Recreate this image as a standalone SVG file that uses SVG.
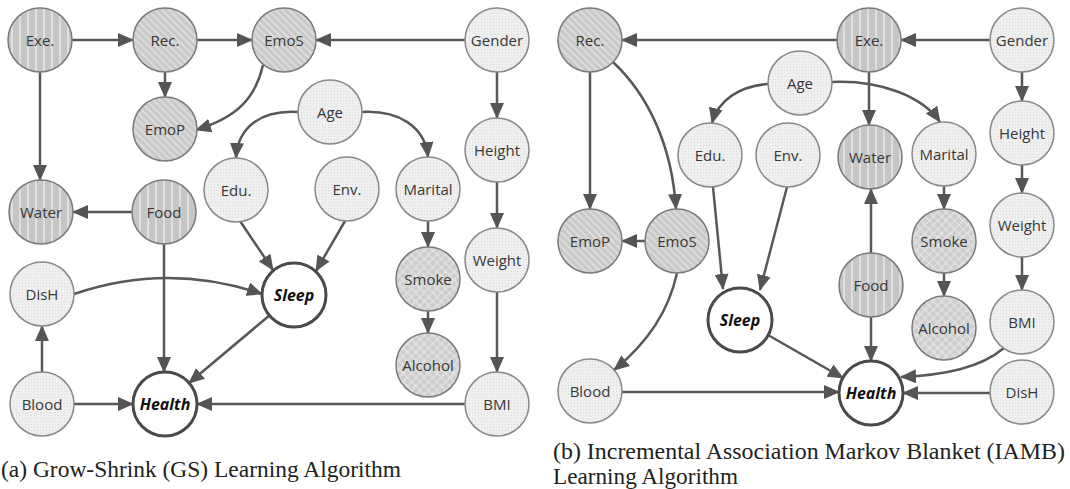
<svg xmlns="http://www.w3.org/2000/svg" width="1070" height="489" viewBox="0 0 1070 489">
  <defs>
    <!-- fills for the node categories -->
    <pattern id="dots" width="3" height="3" patternUnits="userSpaceOnUse">
      <rect width="3" height="3" fill="#efefef"/>
      <rect x="1" y="1" width="1" height="1" fill="#dcdcdc"/>
    </pattern>
    <pattern id="vstripe" width="8" height="8" patternUnits="userSpaceOnUse">
      <rect width="8" height="8" fill="#c6c6c6"/>
      <line x1="4" y1="0" x2="4" y2="8" stroke="#e6e6e6" stroke-width="1.6"/>
    </pattern>
    <pattern id="diag" width="5" height="5" patternUnits="userSpaceOnUse" patternTransform="rotate(-45)">
      <rect width="5" height="5" fill="#c9c9c9"/>
      <line x1="2.5" y1="0" x2="2.5" y2="5" stroke="#e4e4e4" stroke-width="1.4"/>
    </pattern>
    <pattern id="cross" width="6" height="6" patternUnits="userSpaceOnUse" patternTransform="rotate(45)">
      <rect width="6" height="6" fill="#cdcdcd"/>
      <line x1="3" y1="0" x2="3" y2="6" stroke="#e6e6e6" stroke-width="1.2"/>
      <line x1="0" y1="3" x2="6" y2="3" stroke="#e6e6e6" stroke-width="1.2"/>
    </pattern>
    <marker id="ah" markerUnits="userSpaceOnUse" markerWidth="16" markerHeight="14" refX="15" refY="7" orient="auto">
      <path d="M0,0 L16,7 L0,14 z" fill="#555"/>
    </marker>
  </defs>
  <style>
    .n circle { fill: url(#dots); stroke: #888; stroke-width: 1.5; }
    .n.vs circle { fill: url(#vstripe); stroke: #7a7a7a; }
    .n.dg circle { fill: url(#diag); stroke: #7a7a7a; }
    .n.cx circle { fill: url(#cross); stroke: #7a7a7a; }
    .n text { font-family: "Open Sans", "DejaVu Sans", sans-serif; font-size: 15px; fill: #383838; text-anchor: middle; dominant-baseline: central; }
    .n.key circle { fill: #fff; stroke: #4a4a4a; stroke-width: 3; }
    .n.key text { font-weight: bold; font-style: italic; fill: #111; font-size: 16px; }
    .e { fill: none; stroke: #585858; stroke-width: 2.5; marker-end: url(#ah); }
    .cap { font-family: "Liberation Serif", "Times New Roman", serif; font-size: 23px; fill: #222; }
  </style>

  <!-- edges -->
  <g id="edges">
    <!-- (a) Grow-Shrink -->
    <path class="e" d="M72,40 L133,40"/>
    <path class="e" d="M197,40 L252,40"/>
    <path class="e" d="M465,40 L316,40"/>
    <path class="e" d="M165,72 L165,97"/>
    <path class="e" d="M263,65 C255,100 235,118 196,130"/>
    <path class="e" d="M40,72 L40,180"/>
    <path class="e" d="M298,112 C262,110 238,126 236,158"/>
    <path class="e" d="M362,112 C398,110 425,126 428,157"/>
    <path class="e" d="M497,72 L497,118"/>
    <path class="e" d="M497,182 L497,228"/>
    <path class="e" d="M497,292 L497,372"/>
    <path class="e" d="M428,221 L428,247"/>
    <path class="e" d="M428,311 L428,333"/>
    <path class="e" d="M132,212 L73,212"/>
    <path class="e" d="M164,244 L164,372"/>
    <path class="e" d="M240,221 L273,270"/>
    <path class="e" d="M345,221 L316,271"/>
    <path class="e" d="M74,294 Q168,262 262,294"/>
    <path class="e" d="M42,372 L42,326"/>
    <path class="e" d="M74,404 L133,404"/>
    <path class="e" d="M270,315 L189,383"/>
    <path class="e" d="M465,404 L197,404"/>

    <!-- (b) IAMB -->
    <path class="e" d="M990,40 L901,40"/>
    <path class="e" d="M837,40 L622,40"/>
    <path class="e" d="M1022,72 L1022,101"/>
    <path class="e" d="M1022,165 L1022,193"/>
    <path class="e" d="M1022,257 L1022,290"/>
    <path class="e" d="M590,72 L590,209"/>
    <path class="e" d="M613,62 C648,95 672,145 676,209"/>
    <path class="e" d="M869,72 L869,125"/>
    <path class="e" d="M768,84 C740,86 718,100 712,123"/>
    <path class="e" d="M832,82 C880,80 922,96 940,122"/>
    <path class="e" d="M871,253 L871,189"/>
    <path class="e" d="M871,317 L871,361"/>
    <path class="e" d="M944,186 L944,209"/>
    <path class="e" d="M944,273 L944,296"/>
    <path class="e" d="M645,241 L622,241"/>
    <path class="e" d="M677,273 C668,315 645,345 614,370"/>
    <path class="e" d="M713,187 L723,289"/>
    <path class="e" d="M787,187 L760,290"/>
    <path class="e" d="M768,335 L843,378"/>
    <path class="e" d="M622,392 L839,392"/>
    <path class="e" d="M1004,348 C980,368 945,375 901,377"/>
    <path class="e" d="M990,393 L903,393"/>
  </g>

  <!-- (a) nodes -->
  <g id="a-exe" class="n vs"><circle cx="40" cy="40" r="32"/><text x="40" y="40">Exe.</text></g>
  <g id="a-rec" class="n dg"><circle cx="165" cy="40" r="32"/><text x="165" y="40">Rec.</text></g>
  <g id="a-emos" class="n dg"><circle cx="284" cy="40" r="32"/><text x="284" y="40">EmoS</text></g>
  <g id="a-gender" class="n"><circle cx="497" cy="40" r="32"/><text x="497" y="40">Gender</text></g>
  <g id="a-emop" class="n dg"><circle cx="165" cy="129" r="32"/><text x="165" y="129">EmoP</text></g>
  <g id="a-age" class="n"><circle cx="330" cy="112" r="32"/><text x="330" y="112">Age</text></g>
  <g id="a-height" class="n"><circle cx="497" cy="150" r="32"/><text x="497" y="150">Height</text></g>
  <g id="a-edu" class="n"><circle cx="236" cy="190" r="32"/><text x="236" y="190">Edu.</text></g>
  <g id="a-env" class="n"><circle cx="347" cy="189" r="32"/><text x="347" y="189">Env.</text></g>
  <g id="a-marital" class="n"><circle cx="428" cy="189" r="32"/><text x="428" y="189">Marital</text></g>
  <g id="a-water" class="n vs"><circle cx="41" cy="212" r="32"/><text x="41" y="212">Water</text></g>
  <g id="a-food" class="n vs"><circle cx="164" cy="212" r="32"/><text x="164" y="212">Food</text></g>
  <g id="a-dish" class="n"><circle cx="42" cy="294" r="32"/><text x="42" y="294">DisH</text></g>
  <g id="a-sleep" class="n key"><circle cx="294" cy="295" r="32"/><text x="294" y="295">Sleep</text></g>
  <g id="a-weight" class="n"><circle cx="497" cy="260" r="32"/><text x="497" y="260">Weight</text></g>
  <g id="a-smoke" class="n cx"><circle cx="428" cy="279" r="32"/><text x="428" y="279">Smoke</text></g>
  <g id="a-alcohol" class="n cx"><circle cx="428" cy="365" r="32"/><text x="428" y="365">Alcohol</text></g>
  <g id="a-blood" class="n"><circle cx="42" cy="404" r="32"/><text x="42" y="404">Blood</text></g>
  <g id="a-health" class="n key"><circle cx="165" cy="404" r="32"/><text x="165" y="404">Health</text></g>
  <g id="a-bmi" class="n"><circle cx="497" cy="404" r="32"/><text x="497" y="404">BMI</text></g>

  <!-- (b) nodes -->
  <g id="b-rec" class="n dg"><circle cx="590" cy="40" r="32"/><text x="590" y="40">Rec.</text></g>
  <g id="b-exe" class="n vs"><circle cx="869" cy="40" r="32"/><text x="869" y="40">Exe.</text></g>
  <g id="b-gender" class="n"><circle cx="1022" cy="40" r="32"/><text x="1022" y="40">Gender</text></g>
  <g id="b-age" class="n"><circle cx="800" cy="83" r="32"/><text x="800" y="83">Age</text></g>
  <g id="b-height" class="n"><circle cx="1022" cy="133" r="32"/><text x="1022" y="133">Height</text></g>
  <g id="b-edu" class="n"><circle cx="710" cy="155" r="32"/><text x="710" y="155">Edu.</text></g>
  <g id="b-env" class="n"><circle cx="788" cy="155" r="32"/><text x="788" y="155">Env.</text></g>
  <g id="b-water" class="n vs"><circle cx="870" cy="157" r="32"/><text x="870" y="157">Water</text></g>
  <g id="b-marital" class="n"><circle cx="944" cy="154" r="32"/><text x="944" y="154">Marital</text></g>
  <g id="b-weight" class="n"><circle cx="1022" cy="225" r="32"/><text x="1022" y="225">Weight</text></g>
  <g id="b-emop" class="n dg"><circle cx="590" cy="241" r="32"/><text x="590" y="241">EmoP</text></g>
  <g id="b-emos" class="n dg"><circle cx="677" cy="241" r="32"/><text x="677" y="241">EmoS</text></g>
  <g id="b-smoke" class="n cx"><circle cx="944" cy="241" r="32"/><text x="944" y="241">Smoke</text></g>
  <g id="b-food" class="n vs"><circle cx="871" cy="285" r="32"/><text x="871" y="285">Food</text></g>
  <g id="b-sleep" class="n key"><circle cx="740" cy="320" r="32"/><text x="740" y="320">Sleep</text></g>
  <g id="b-alcohol" class="n cx"><circle cx="944" cy="328" r="32"/><text x="944" y="328">Alcohol</text></g>
  <g id="b-bmi" class="n"><circle cx="1022" cy="322" r="32"/><text x="1022" y="322">BMI</text></g>
  <g id="b-blood" class="n"><circle cx="590" cy="391" r="32"/><text x="590" y="391">Blood</text></g>
  <g id="b-health" class="n key"><circle cx="871" cy="393" r="32"/><text x="871" y="393">Health</text></g>
  <g id="b-dish" class="n"><circle cx="1022" cy="392" r="32"/><text x="1022" y="392">DisH</text></g>

  <!-- captions -->
  <text class="cap" x="1" y="477" textLength="400" lengthAdjust="spacingAndGlyphs">(a) Grow-Shrink (GS) Learning Algorithm</text>
  <text class="cap" x="553" y="459" textLength="512" lengthAdjust="spacingAndGlyphs">(b) Incremental Association Markov Blanket (IAMB)</text>
  <text class="cap" x="553" y="484" textLength="185" lengthAdjust="spacingAndGlyphs">Learning Algorithm</text>
</svg>
